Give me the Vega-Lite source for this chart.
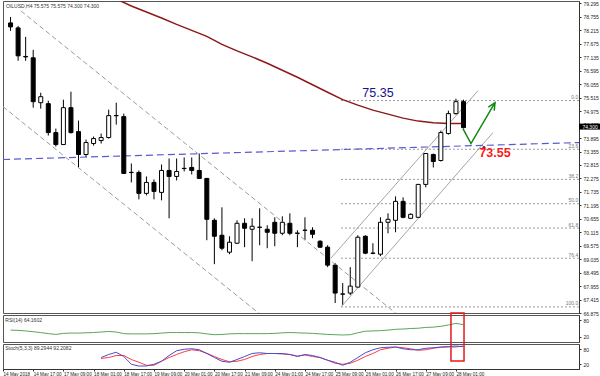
{
  "$schema": "https://vega.github.io/schema/vega-lite/v6.json",
  "padding": {"left": 2, "top": 0, "right": 0, "bottom": 0},
  "background": "white",
  "spacing": 2,
  "bounds": "flush",
  "config": {
    "view": {"stroke": "#555", "strokeWidth": 1},
    "axis": {"labelFont": "Liberation Sans", "labelFontSize": 5, "labelColor": "#222", "domainColor": "#333", "tickColor": "#333", "grid": false, "title": null, "labelOverlap": false},
    "text": {"font": "Liberation Sans"}
  },
  "datasets": {
    "candles": [
      {"i":0,"o":78.515,"h":78.755,"l":78.195,"c":78.355},
      {"i":1,"o":78.315,"h":78.395,"l":76.995,"c":77.195},
      {"i":2,"o":77.17,"h":77.955,"l":76.995,"c":77.15},
      {"i":3,"o":77.115,"h":77.435,"l":75.115,"c":75.355},
      {"i":4,"o":75.315,"h":75.715,"l":75.075,"c":75.555},
      {"i":5,"o":75.275,"h":75.395,"l":73.995,"c":74.115},
      {"i":6,"o":74.115,"h":74.275,"l":73.555,"c":73.635},
      {"i":7,"o":73.635,"h":75.435,"l":73.615,"c":75.115},
      {"i":8,"o":75.115,"h":75.755,"l":74.075,"c":74.115},
      {"i":9,"o":74.155,"h":74.595,"l":72.715,"c":73.235},
      {"i":10,"o":73.235,"h":73.835,"l":73.115,"c":73.715},
      {"i":11,"o":73.675,"h":73.955,"l":73.595,"c":73.875},
      {"i":12,"o":73.795,"h":74.075,"l":73.675,"c":73.915},
      {"i":13,"o":73.915,"h":75.035,"l":73.875,"c":74.795},
      {"i":14,"o":74.79,"h":75.315,"l":74.435,"c":74.8},
      {"i":15,"o":74.755,"h":74.875,"l":72.455,"c":72.475},
      {"i":16,"o":72.51,"h":72.875,"l":72.115,"c":72.52},
      {"i":17,"o":72.515,"h":72.595,"l":71.435,"c":71.675},
      {"i":18,"o":71.675,"h":72.355,"l":71.595,"c":72.115},
      {"i":19,"o":72.115,"h":72.235,"l":71.435,"c":71.755},
      {"i":20,"o":71.715,"h":72.835,"l":71.395,"c":72.595},
      {"i":21,"o":72.595,"h":73.075,"l":70.675,"c":72.355},
      {"i":22,"o":72.355,"h":73.075,"l":72.195,"c":72.555},
      {"i":23,"o":72.67,"h":73.115,"l":72.555,"c":72.68},
      {"i":24,"o":72.715,"h":73.115,"l":72.435,"c":72.595},
      {"i":25,"o":72.595,"h":73.275,"l":72.255,"c":72.275},
      {"i":26,"o":72.275,"h":72.295,"l":69.795,"c":70.635},
      {"i":27,"o":70.595,"h":70.675,"l":68.835,"c":69.955},
      {"i":28,"o":69.995,"h":71.115,"l":69.395,"c":69.475},
      {"i":29,"o":69.315,"h":69.955,"l":69.235,"c":69.715},
      {"i":30,"o":69.675,"h":70.595,"l":69.655,"c":70.475},
      {"i":31,"o":70.475,"h":70.675,"l":69.515,"c":70.275},
      {"i":32,"o":70.235,"h":70.675,"l":68.955,"c":70.355},
      {"i":33,"o":70.31,"h":71.075,"l":69.595,"c":70.32},
      {"i":34,"o":70.235,"h":70.395,"l":69.475,"c":70.115},
      {"i":35,"o":70.515,"h":70.715,"l":69.555,"c":70.075},
      {"i":36,"o":70.075,"h":70.755,"l":69.995,"c":70.515},
      {"i":37,"o":70.475,"h":70.875,"l":69.995,"c":70.075},
      {"i":38,"o":70.07,"h":70.195,"l":69.515,"c":70.08},
      {"i":39,"o":70.19,"h":70.715,"l":69.795,"c":70.2},
      {"i":40,"o":70.195,"h":70.315,"l":69.875,"c":70.035},
      {"i":41,"o":69.755,"h":69.795,"l":69.495,"c":69.515},
      {"i":42,"o":69.515,"h":69.595,"l":68.715,"c":68.795},
      {"i":43,"o":68.795,"h":68.875,"l":67.275,"c":67.675},
      {"i":44,"o":67.63,"h":68.075,"l":67.195,"c":67.64},
      {"i":45,"o":67.675,"h":68.715,"l":67.595,"c":67.955},
      {"i":46,"o":67.915,"h":69.995,"l":67.895,"c":69.915},
      {"i":47,"o":69.955,"h":69.995,"l":69.235,"c":69.275},
      {"i":48,"o":69.27,"h":69.675,"l":69.235,"c":69.28},
      {"i":49,"o":69.235,"h":70.715,"l":69.155,"c":70.515},
      {"i":50,"o":70.515,"h":70.875,"l":70.075,"c":70.635},
      {"i":51,"o":70.595,"h":71.555,"l":70.115,"c":71.355},
      {"i":52,"o":71.355,"h":71.515,"l":70.675,"c":70.715},
      {"i":53,"o":70.675,"h":70.875,"l":70.655,"c":70.835},
      {"i":54,"o":70.715,"h":72.055,"l":70.695,"c":72.035},
      {"i":55,"o":72.035,"h":73.295,"l":71.915,"c":73.275},
      {"i":56,"o":73.235,"h":73.275,"l":72.715,"c":72.955},
      {"i":57,"o":72.995,"h":74.195,"l":72.955,"c":74.115},
      {"i":58,"o":74.075,"h":74.995,"l":74.035,"c":74.875},
      {"i":59,"o":74.875,"h":75.475,"l":74.835,"c":75.355},
      {"i":60,"o":75.355,"h":75.435,"l":74.275,"c":74.315}
    ],
    "ma": [
      {"i":12,"p":79.75},{"i":14,"p":79.475},{"i":16,"p":79.195},{"i":18,"p":78.955},{"i":20,"p":78.715},
      {"i":22,"p":78.455},{"i":24,"p":78.215},{"i":26,"p":77.975},{"i":28,"p":77.655},{"i":30,"p":77.395},
      {"i":32,"p":77.155},{"i":34,"p":76.895},{"i":36,"p":76.615},{"i":38,"p":76.335},{"i":40,"p":76.035},
      {"i":42,"p":75.735},{"i":44,"p":75.435},{"i":46,"p":75.215},{"i":48,"p":75.015},{"i":50,"p":74.855},
      {"i":52,"p":74.695},{"i":54,"p":74.575},{"i":56,"p":74.505},{"i":58,"p":74.475},{"i":60,"p":74.475}
    ],
    "trend": [
      {"line":"down_upper","k":0,"i":1.38,"p":78.995},{"line":"down_upper","k":1,"i":51.32,"p":66.795},
      {"line":"down_lower","k":0,"i":-1.0,"p":75.155},{"line":"down_lower","k":1,"i":33.17,"p":66.795},
      {"line":"up_upper","k":0,"i":42.44,"p":69.075},{"line":"up_upper","k":1,"i":61.92,"p":75.795},
      {"line":"up_lower","k":0,"i":43.77,"p":67.115},{"line":"up_lower","k":1,"i":63.9,"p":74.115},
      {"line":"support","k":0,"i":-1.0,"p":73.035},{"line":"support","k":1,"i":75.3,"p":73.715},
      {"line":"arrow","k":0,"i":59.93,"p":74.275},{"line":"arrow","k":1,"i":60.99,"p":73.675},{"line":"arrow","k":2,"i":64.17,"p":75.315},
      {"line":"head","k":0,"i":63.29,"p":75.135},{"line":"head","k":1,"i":64.17,"p":75.315},{"line":"head","k":2,"i":64.07,"p":74.995}
    ],
    "fib": [
      {"lab":"0.0","p":75.4},{"lab":"23.6","p":73.446},{"lab":"38.2","p":72.237},{"lab":"50.0","p":71.26},
      {"lab":"61.8","p":70.283},{"lab":"76.4","p":69.074},{"lab":"100.0","p":67.12}
    ],
    "rsi": [
      {"i":0,"v":44},{"i":1,"v":43},{"i":2,"v":41},{"i":3,"v":38},{"i":4,"v":35},{"i":5,"v":31},{"i":6,"v":28},
      {"i":7,"v":32},{"i":8,"v":33},{"i":9,"v":33},{"i":10,"v":34},{"i":11,"v":35},{"i":12,"v":37},{"i":13,"v":39},
      {"i":14,"v":37},{"i":15,"v":31},{"i":16,"v":30},{"i":17,"v":30},{"i":18,"v":30},{"i":19,"v":31},{"i":20,"v":33},
      {"i":21,"v":35},{"i":22,"v":35},{"i":23,"v":35},{"i":24,"v":35},{"i":25,"v":34},{"i":26,"v":30},{"i":27,"v":27},
      {"i":28,"v":28},{"i":29,"v":30},{"i":30,"v":31},{"i":31,"v":31},{"i":32,"v":31},{"i":33,"v":31},{"i":34,"v":31},
      {"i":35,"v":32},{"i":36,"v":34},{"i":37,"v":35},{"i":38,"v":34},{"i":39,"v":33},{"i":40,"v":32},{"i":41,"v":30},
      {"i":42,"v":28},{"i":43,"v":27},{"i":44,"v":26},{"i":45,"v":27},{"i":46,"v":34},{"i":47,"v":40},{"i":48,"v":41},
      {"i":49,"v":42},{"i":50,"v":44},{"i":51,"v":47},{"i":52,"v":48},{"i":53,"v":50},{"i":54,"v":51},{"i":55,"v":54},
      {"i":56,"v":55},{"i":57,"v":58},{"i":58,"v":63},{"i":59,"v":69},{"i":60,"v":64.16}
    ],
    "stoch": [
      {"i":12,"k":46,"d":42},{"i":13,"k":58,"d":46},{"i":14,"k":67,"d":54},{"i":15,"k":50,"d":54},{"i":16,"k":19,"d":38},
      {"i":17,"k":12,"d":27},{"i":18,"k":12,"d":15},{"i":19,"k":19,"d":15},{"i":20,"k":31,"d":31},{"i":21,"k":54,"d":46},
      {"i":22,"k":73,"d":58},{"i":23,"k":79,"d":69},{"i":24,"k":81,"d":77},{"i":25,"k":77,"d":73},{"i":26,"k":62,"d":63},
      {"i":27,"k":46,"d":50},{"i":28,"k":31,"d":38},{"i":29,"k":27,"d":29},{"i":30,"k":38,"d":31},{"i":31,"k":50,"d":38},
      {"i":32,"k":62,"d":50},{"i":33,"k":65,"d":58},{"i":34,"k":62,"d":62},{"i":35,"k":62,"d":62},{"i":36,"k":62,"d":60},
      {"i":37,"k":58,"d":58},{"i":38,"k":50,"d":52},{"i":39,"k":58,"d":56},{"i":40,"k":54,"d":50},{"i":41,"k":46,"d":46},
      {"i":42,"k":35,"d":35},{"i":43,"k":27,"d":23},{"i":44,"k":15,"d":19},{"i":45,"k":27,"d":23},{"i":46,"k":46,"d":35},
      {"i":47,"k":65,"d":50},{"i":48,"k":77,"d":62},{"i":49,"k":85,"d":77},{"i":50,"k":87,"d":83},{"i":51,"k":88,"d":88},
      {"i":52,"k":81,"d":85},{"i":53,"k":77,"d":81},{"i":54,"k":77,"d":75},{"i":55,"k":83,"d":77},{"i":56,"k":85,"d":83},
      {"i":57,"k":88,"d":87},{"i":58,"k":90,"d":88},{"i":59,"k":92,"d":88},{"i":60,"k":89.29,"d":92.21}
    ]
  },
  "vconcat": [
    {
      "width": 576,
      "height": 312,
      "layer": [
        {
          "data": {"name": "candles"},
          "mark": {"type": "rule", "color": "#000", "strokeWidth": 1},
          "encoding": {
            "x": {"field": "i", "type": "quantitative", "scale": {"domain": [-1, 75.3], "nice": false, "zero": false, "padding": 0}, "axis": null},
            "y": {"field": "l", "type": "quantitative", "scale": {"domain": [66.875, 79.395], "nice": false, "zero": false},
              "axis": {"orient": "right", "values": [66.875,67.415,67.955,68.495,69.035,69.575,70.115,70.655,71.195,71.735,72.275,72.815,73.355,73.895,74.435,74.975,75.515,76.055,76.595,77.135,77.675,78.215,78.755,79.295], "tickCount": 100, "format": ".3f", "tickSize": 2, "labelPadding": 2, "labelFlush": false, "labelOverlap": false}},
            "y2": {"field": "h"}
          }
        },
        {
          "data": {"name": "fib"},
          "mark": {"type": "rule", "color": "#9a9a9a", "strokeDash": [2, 2], "strokeWidth": 1},
          "encoding": {"x": {"datum": 43.77, "type": "quantitative"}, "x2": {"datum": 75.3}, "y": {"field": "p", "type": "quantitative"}}
        },
        {
          "data": {"name": "fib"},
          "mark": {"type": "text", "align": "right", "baseline": "bottom", "fontSize": 5, "color": "#777", "dy": -0.5},
          "encoding": {"x": {"datum": 75.2, "type": "quantitative"}, "y": {"field": "p", "type": "quantitative"}, "text": {"field": "lab"}}
        },
        {
          "mark": {"type": "rule", "color": "#c8c8ee", "strokeDash": [2, 2], "strokeWidth": 1},
          "encoding": {"y": {"datum": 75.115, "type": "quantitative"}}
        },
        {
          "mark": {"type": "rule", "color": "#bdbdbd", "strokeWidth": 1},
          "encoding": {"y": {"datum": 74.315, "type": "quantitative"}}
        },
        {
          "data": {"name": "trend"},
          "transform": [{"filter": "indexof(['down_upper','down_lower'], datum.line) >= 0"}],
          "mark": {"type": "line", "color": "#9a9a9a", "strokeDash": [5, 3], "strokeWidth": 1, "clip": true},
          "encoding": {"x": {"field": "i", "type": "quantitative"}, "y": {"field": "p", "type": "quantitative"}, "detail": {"field": "line"}, "order": {"field": "k"}}
        },
        {
          "data": {"name": "trend"},
          "transform": [{"filter": "indexof(['up_upper','up_lower'], datum.line) >= 0"}],
          "mark": {"type": "line", "color": "#a5a5a5", "strokeWidth": 1, "clip": true},
          "encoding": {"x": {"field": "i", "type": "quantitative"}, "y": {"field": "p", "type": "quantitative"}, "detail": {"field": "line"}, "order": {"field": "k"}}
        },
        {
          "data": {"name": "trend"},
          "transform": [{"filter": "datum.line == 'support'"}],
          "mark": {"type": "line", "color": "#5a5ad0", "strokeDash": [7, 4], "strokeWidth": 1.2, "clip": true},
          "encoding": {"x": {"field": "i", "type": "quantitative"}, "y": {"field": "p", "type": "quantitative"}, "order": {"field": "k"}}
        },
        {
          "data": {"name": "ma"},
          "mark": {"type": "line", "color": "#8b1a1a", "strokeWidth": 1.5, "clip": true},
          "encoding": {"x": {"field": "i", "type": "quantitative"}, "y": {"field": "p", "type": "quantitative"}}
        },
        {
          "mark": {"type": "rule", "color": "#14148c", "strokeWidth": 2},
          "encoding": {"x": {"datum": 7.87, "type": "quantitative"}, "x2": {"datum": 69.3}, "y": {"datum": 75.35, "type": "quantitative"}}
        },
        {
          "data": {"name": "candles"},
          "mark": {"type": "bar", "size": 4, "stroke": "#000", "strokeWidth": 1},
          "encoding": {
            "x": {"field": "i", "type": "quantitative"},
            "y": {"field": "o", "type": "quantitative"},
            "y2": {"field": "c"},
            "fill": {"condition": {"test": "datum.c < datum.o", "value": "#000"}, "value": "#fff"}
          }
        },
        {
          "data": {"name": "trend"},
          "transform": [{"filter": "datum.line == 'arrow' || datum.line == 'head'"}],
          "mark": {"type": "line", "color": "#118811", "strokeWidth": 1.5, "clip": false},
          "encoding": {"x": {"field": "i", "type": "quantitative"}, "y": {"field": "p", "type": "quantitative"}, "detail": {"field": "line"}, "order": {"field": "k"}}
        },
        {
          "data": {"values": [{"i": 62.71, "p": 73.515}]},
          "mark": {"type": "circle", "color": "#8b1a1a", "size": 10, "opacity": 1},
          "encoding": {"x": {"field": "i", "type": "quantitative"}, "y": {"field": "p", "type": "quantitative"}}
        },
        {
          "data": {"values": [{"i": 48.67, "p": 75.715, "t": "75.35"}]},
          "mark": {"type": "text", "fontSize": 12.5, "color": "#14148c", "align": "center", "baseline": "middle"},
          "encoding": {"x": {"field": "i", "type": "quantitative"}, "y": {"field": "p", "type": "quantitative"}, "text": {"field": "t"}}
        },
        {
          "data": {"values": [{"i": 64.17, "p": 73.315, "t": "73.55"}]},
          "mark": {"type": "text", "fontSize": 12.5, "fontWeight": "bold", "color": "#ff1a1a", "align": "center", "baseline": "middle"},
          "encoding": {"x": {"field": "i", "type": "quantitative"}, "y": {"field": "p", "type": "quantitative"}, "text": {"field": "t"}}
        },
        {
          "data": {"values": [{"i": -0.6, "p": 79.2, "t": "OILUSD,H4 75.575 75.575 74.300 74.300"}]},
          "mark": {"type": "text", "fontSize": 5, "color": "#333", "align": "left", "baseline": "middle"},
          "encoding": {"x": {"field": "i", "type": "quantitative"}, "y": {"field": "p", "type": "quantitative"}, "text": {"field": "t"}}
        },
        {
          "data": {"values": [{"i": 75.3, "i2": 78.3, "p": 74.235, "p2": 74.475}]},
          "mark": {"type": "rect", "fill": "#000", "clip": false},
          "encoding": {"x": {"field": "i", "type": "quantitative"}, "x2": {"field": "i2"}, "y": {"field": "p", "type": "quantitative"}, "y2": {"field": "p2"}}
        },
        {
          "data": {"values": [{"i": 75.75, "p": 74.355, "t": "74.300"}]},
          "mark": {"type": "text", "fontSize": 5, "color": "#fff", "align": "left", "baseline": "middle", "clip": false},
          "encoding": {"x": {"field": "i", "type": "quantitative"}, "y": {"field": "p", "type": "quantitative"}, "text": {"field": "t"}}
        }
      ]
    },
    {
      "width": 576,
      "height": 27,
      "layer": [
        {
          "data": {"name": "rsi"},
          "mark": {"type": "line", "color": "#5aa55a", "strokeWidth": 1},
          "encoding": {
            "x": {"field": "i", "type": "quantitative", "scale": {"domain": [-1, 75.3], "nice": false, "zero": false, "padding": 0}, "axis": null},
            "y": {"field": "v", "type": "quantitative", "scale": {"domain": [0, 100], "nice": false}, "axis": {"orient": "right", "values": [20, 80], "tickCount": 10, "tickSize": 2, "labelPadding": 2, "labelFlush": false}}
          }
        },
        {
          "mark": {"type": "rule", "color": "#aaa", "strokeDash": [3, 2], "strokeWidth": 1},
          "encoding": {"y": {"datum": 80, "type": "quantitative"}}
        },
        {
          "mark": {"type": "rule", "color": "#aaa", "strokeDash": [3, 2], "strokeWidth": 1},
          "encoding": {"y": {"datum": 20, "type": "quantitative"}}
        },
        {
          "data": {"values": [{"i": -0.7, "v": 82, "t": "RSI(14) 64.1602"}]},
          "mark": {"type": "text", "fontSize": 5, "color": "#333", "align": "left", "baseline": "middle"},
          "encoding": {"x": {"field": "i", "type": "quantitative"}, "y": {"field": "v", "type": "quantitative"}, "text": {"field": "t"}}
        },
        {
          "data": {"values": [{"i": 58.34, "i2": 60.07, "v": 107.4, "v2": -70}]},
          "mark": {"type": "rect", "fillOpacity": 0, "fill": "#fff", "stroke": "#e41b1b", "strokeWidth": 1.5, "clip": false},
          "encoding": {"x": {"field": "i", "type": "quantitative"}, "x2": {"field": "i2"}, "y": {"field": "v", "type": "quantitative"}, "y2": {"field": "v2"}}
        }
      ]
    },
    {
      "width": 576,
      "height": 25,
      "layer": [
        {
          "mark": {"type": "rule", "color": "#aaa", "strokeDash": [3, 2], "strokeWidth": 1},
          "encoding": {"y": {"datum": 80, "type": "quantitative", "scale": {"domain": [0, 100], "nice": false}, "axis": {"orient": "right", "values": [20, 80], "tickCount": 10, "tickSize": 2, "labelPadding": 2, "labelFlush": false}}}
        },
        {
          "mark": {"type": "rule", "color": "#aaa", "strokeDash": [3, 2], "strokeWidth": 1},
          "encoding": {"y": {"datum": 20, "type": "quantitative"}}
        },
        {
          "data": {"name": "stoch"},
          "mark": {"type": "line", "color": "#ff3b3b", "strokeWidth": 1},
          "encoding": {
            "x": {"field": "i", "type": "quantitative", "scale": {"domain": [-1, 75.3], "nice": false, "zero": false, "padding": 0},
              "axis": {"orient": "bottom", "values": [-1,3,7,11,15,19,23,27,31,35,39,43,47,51,55,59], "tickCount": 100,
                "labelExpr": "['14 May 2018','14 May 17:00','17 May 09:00','18 May 01:00','18 May 17:00','19 May 09:00','20 May 01:00','20 May 17:00','21 May 09:00','24 May 01:00','24 May 17:00','25 May 09:00','26 May 01:00','26 May 17:00','27 May 09:00','28 May 01:00'][round((datum.value+1)/4)]",
                "labelAlign": "left", "labelBaseline": "top", "tickSize": 2, "labelPadding": 0, "labelOverlap": false, "labelFlush": false, "labelBound": false, "labelFontSize": 4.6}},
            "y": {"field": "d", "type": "quantitative"}
          }
        },
        {
          "data": {"name": "stoch"},
          "mark": {"type": "line", "color": "#4b4bd0", "strokeWidth": 1},
          "encoding": {"x": {"field": "i", "type": "quantitative"}, "y": {"field": "k", "type": "quantitative"}}
        },
        {
          "data": {"values": [{"i": -0.7, "v": 84, "t": "Stoch(5,3,3) 89.2944 92.2082"}]},
          "mark": {"type": "text", "fontSize": 5, "color": "#333", "align": "left", "baseline": "middle"},
          "encoding": {"x": {"field": "i", "type": "quantitative"}, "y": {"field": "v", "type": "quantitative"}, "text": {"field": "t"}}
        }
      ]
    }
  ]
}
